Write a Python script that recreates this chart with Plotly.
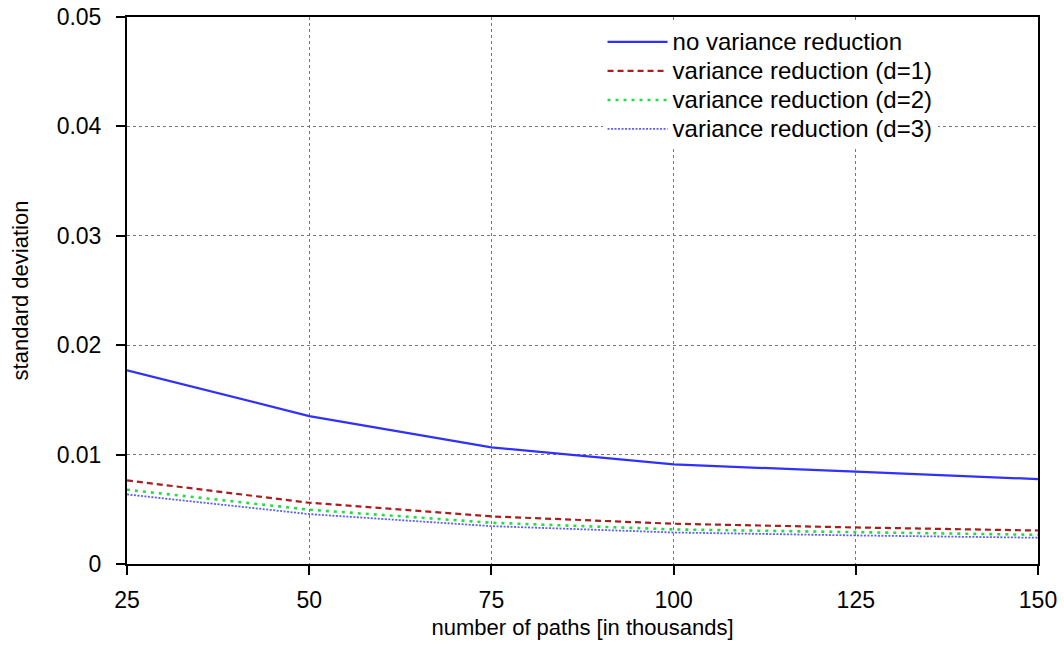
import plotly.graph_objects as go

paths = [25, 50, 75, 100, 125, 150]
no_vr = [0.0177, 0.01352, 0.01066, 0.0091, 0.00844, 0.00776]
vr_d1 = [0.00764, 0.0056, 0.00435, 0.00368, 0.00334, 0.00306]
vr_d2 = [0.00679, 0.00496, 0.00377, 0.00316, 0.00291, 0.00267]
vr_d3 = [0.00636, 0.00456, 0.00346, 0.00288, 0.00261, 0.0024]

series_names = ["no variance reduction", "variance reduction (d=1)",
                "variance reduction (d=2)", "variance reduction (d=3)"]

x_ticks = [25, 50, 75, 100, 125, 150]
y_ticks = [0, 0.01, 0.02, 0.03, 0.04, 0.05]
y_ticktext = ["0", "0.01", "0.02", "0.03", "0.04", "0.05"]

FONT = "Liberation Sans, Arial, sans-serif"


def leg(name):
    return '<span style="font-size:24px">' + name + '</span>'


fig = go.Figure()
fig.add_trace(go.Scatter(x=paths, y=no_vr, mode="lines", name=leg(series_names[0]),
                         line=dict(color="#3030ff", width=2.2, dash="solid")))
fig.add_trace(go.Scatter(x=paths, y=vr_d1, mode="lines", name=leg(series_names[1]),
                         line=dict(color="#aa1e1e", width=2.2, dash="6px,4px")))
fig.add_trace(go.Scatter(x=paths, y=vr_d2, mode="lines", name=leg(series_names[2]),
                         line=dict(color="#22dd44", width=2.6, dash="3px,5px")))
fig.add_trace(go.Scatter(x=paths, y=vr_d3, mode="lines", name=leg(series_names[3]),
                         line=dict(color="#5c5cff", width=1.8, dash="2px,1.5px")))

axis_common = dict(
    showline=True, linecolor="black", linewidth=2, mirror=True,
    showgrid=True, gridcolor="#777777", griddash="dot", gridwidth=1,
    ticks="outside", ticklen=9, tickwidth=2, tickcolor="black",
    zeroline=False,
    tickfont=dict(family=FONT, size=23, color="black"),
)

fig.update_xaxes(range=[25, 150], tickvals=x_ticks, ticktext=[str(v) for v in x_ticks],
                 ticklabelstandoff=5,
                 title=dict(text="number of paths [in thousands]",
                            font=dict(family=FONT, size=22, color="black"), standoff=8),
                 **axis_common)
fig.update_yaxes(range=[0, 0.05], tickvals=y_ticks, ticktext=y_ticktext,
                 ticklabelstandoff=10,
                 title=dict(text="standard deviation",
                            font=dict(family=FONT, size=22, color="black"), standoff=22),
                 **axis_common)

fig.update_layout(
    width=1064, height=652,
    margin=dict(l=127, r=26, t=17, b=88, autoexpand=False),
    plot_bgcolor="white", paper_bgcolor="white",
    font=dict(family=FONT, color="black"),
    legend=dict(x=0.522, y=0.99, xanchor="left", yanchor="top",
                bgcolor="white", borderwidth=0,
                font=dict(family=FONT, size=20, color="black"),
                tracegroupgap=0, itemwidth=60),
)

fig.write_html("out.html", post_script="document.body.style.margin='0';",
               config={"displayModeBar": False})
